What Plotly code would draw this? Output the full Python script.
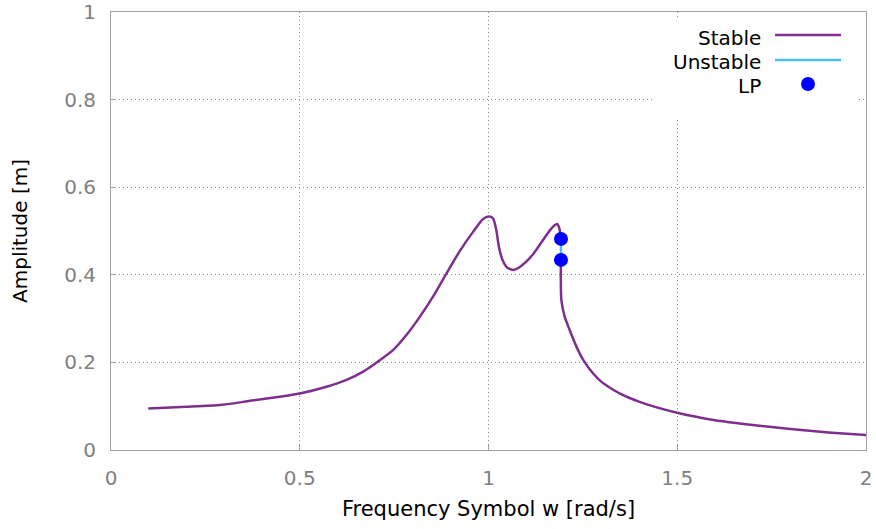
import plotly.graph_objects as go

# Stable branch 1 (low frequency up to upper limit point)
stable1_w = [0.0987, 0.2, 0.289, 0.33, 0.368, 0.447, 0.5, 0.571, 0.624, 0.668, 0.712, 0.747,
             0.782, 0.818, 0.853, 0.888, 0.923, 0.959, 0.985, 1.001, 1.012, 1.02, 1.028, 1.038,
             1.05, 1.066, 1.08, 1.1, 1.119, 1.14, 1.163, 1.175, 1.182, 1.187, 1.190, 1.192]
stable1_a = [0.095, 0.099, 0.103, 0.107, 0.1125, 0.1216, 0.129, 0.1445, 0.16, 0.179, 0.205, 0.228,
             0.262, 0.304, 0.35, 0.402, 0.453, 0.498, 0.527, 0.533, 0.529, 0.505, 0.462, 0.432,
             0.416, 0.411, 0.416, 0.43, 0.448, 0.474, 0.502, 0.513, 0.516, 0.508, 0.496, 0.482]

# Unstable branch (between the two limit points)
unstable_w = [1.192, 1.192]
unstable_a = [0.482, 0.434]

# Stable branch 2 (from lower limit point to high frequency)
stable2_w = [1.192, 1.1915, 1.193, 1.202, 1.215, 1.233, 1.25, 1.275, 1.3, 1.35, 1.4, 1.5, 1.6, 1.7,
             1.8, 1.9, 2.0]
stable2_a = [0.434, 0.396, 0.342, 0.304, 0.274, 0.236, 0.207, 0.177, 0.155, 0.128, 0.11, 0.085, 0.068,
             0.057, 0.048, 0.04, 0.034]

# Limit points
lp_w = [1.192, 1.192]
lp_a = [0.482, 0.434]

legend_labels = ["Stable", "Unstable", "LP"]

PURPLE = "#7e2f8e"
LIGHTBLUE = "#4dbeee"
BLUE = "#0000ff"
GREY = "#808080"
FONT = "DejaVu Sans"

fig = go.Figure()
fig.add_trace(go.Scatter(x=stable1_w, y=stable1_a, mode="lines",
                         line=dict(color=PURPLE, width=2.5, shape="spline", smoothing=0.6),
                         showlegend=False))
fig.add_trace(go.Scatter(x=stable2_w, y=stable2_a, mode="lines",
                         line=dict(color=PURPLE, width=2.5, shape="spline", smoothing=0.6),
                         showlegend=False))
fig.add_trace(go.Scatter(x=unstable_w, y=unstable_a, mode="lines",
                         line=dict(color=LIGHTBLUE, width=2.5), showlegend=False))
fig.add_trace(go.Scatter(x=lp_w, y=lp_a, mode="markers",
                         marker=dict(color=BLUE, size=14), showlegend=False))

axis_common = dict(
    showgrid=True, gridcolor="#8a8a8a", griddash="1px,3px", gridwidth=1,
    showline=True, linecolor="#a0a0a0", linewidth=1, mirror=True,
    ticks="inside", ticklen=5, tickcolor="#a0a0a0",
    tickfont=dict(family=FONT, size=20, color=GREY),
    zeroline=False, automargin=False,
)

fig.update_layout(
    width=876, height=529,
    margin=dict(l=111, r=10, t=12, b=79),
    paper_bgcolor="white", plot_bgcolor="white",
    font=dict(family=FONT, color="black"),
    xaxis=dict(range=[0, 2], tickvals=[0, 0.5, 1, 1.5, 2], ticktext=["0", "0.5", "1", "1.5", "2"],
               title=dict(text="Frequency Symbol w [rad/s]", font=dict(family=FONT, size=21),
                          standoff=12),
               ticklabelstandoff=10, **axis_common),
    yaxis=dict(range=[0, 1], tickvals=[0, 0.2, 0.4, 0.6, 0.8, 1],
               ticktext=["0", "0.2", "0.4", "0.6", "0.8", "1"],
               title=dict(text="Amplitude [m]", font=dict(family=FONT, size=20), standoff=31),
               ticklabelstandoff=10, **axis_common),
)

# Manual legend (text on the left, sample on the right)
def px2paper_x(px):
    return (px - 111) / 755.0

def px2paper_y(py):
    return (450 - py) / 438.0

shapes = [dict(type="rect", xref="paper", yref="paper",
               x0=px2paper_x(655), x1=px2paper_x(856), y0=px2paper_y(119), y1=px2paper_y(18),
               fillcolor="white", line=dict(width=0), layer="above")]
text_y = [38, 62, 86]
for lbl, ty in zip(legend_labels, text_y):
    fig.add_annotation(text=lbl, xref="paper", yref="paper", x=px2paper_x(763), y=px2paper_y(ty),
                       xanchor="right", yanchor="middle", showarrow=False,
                       font=dict(family=FONT, size=20, color="black"))
shapes.append(dict(type="line", xref="paper", yref="paper", x0=px2paper_x(775), x1=px2paper_x(841),
                   y0=px2paper_y(35), y1=px2paper_y(35), line=dict(color=PURPLE, width=2.5), layer="above"))
shapes.append(dict(type="line", xref="paper", yref="paper", x0=px2paper_x(775), x1=px2paper_x(841),
                   y0=px2paper_y(60), y1=px2paper_y(60), line=dict(color=LIGHTBLUE, width=2.5), layer="above"))
shapes.append(dict(type="circle", xref="paper", yref="paper", xsizemode="pixel", ysizemode="pixel",
                   xanchor=px2paper_x(808), yanchor=px2paper_y(84), x0=-7, x1=7, y0=-7, y1=7,
                   fillcolor=BLUE, line=dict(width=0), layer="above"))
fig.update_layout(shapes=shapes)

fig.write_html("out.html", config={"displayModeBar": False},
               post_script="document.body.style.margin='0';document.body.style.overflow='hidden';")
